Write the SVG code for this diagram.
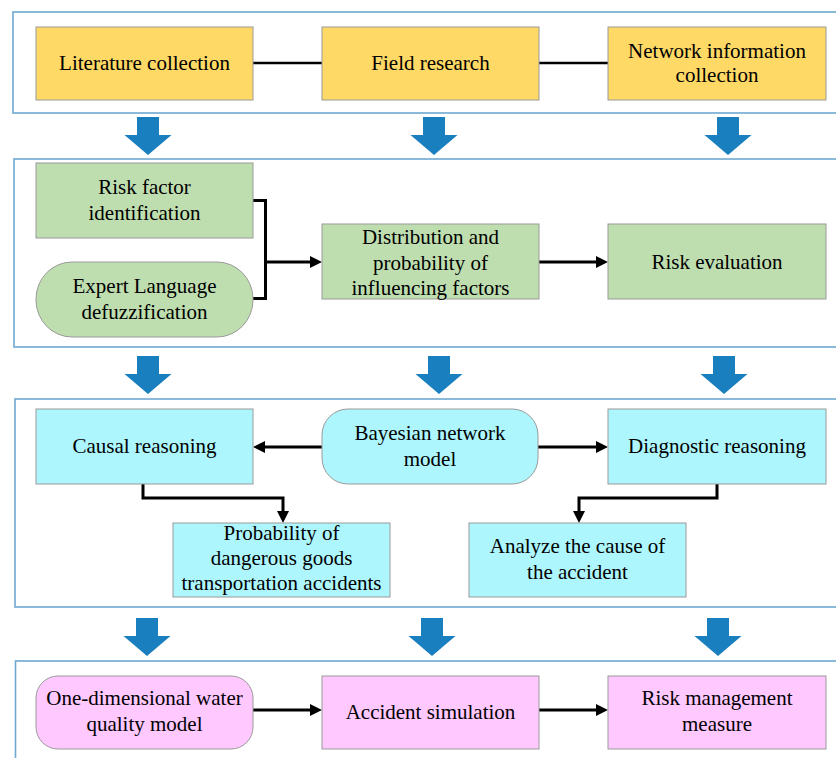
<svg xmlns="http://www.w3.org/2000/svg" xmlns:xlink="http://www.w3.org/1999/xlink" width="836" height="758" viewBox="0 0 836 758">
<style>
.panel{fill:#ffffff;stroke:#6fa8d0;stroke-width:1.6}
.box{stroke:#9a9a9a;stroke-width:1}
.y{fill:#ffd966}
.g{fill:#bfdeb0}
.c{fill:#aef6fd}
.p{fill:#ffc8ff}
text{font-family:"Liberation Serif","Times New Roman",serif;font-size:21px;fill:#000;text-anchor:middle}
.ln{fill:none;stroke:#000;stroke-width:3}
.ln2{fill:none;stroke:#000;stroke-width:2.5}
.ar{marker-end:url(#ah)}
</style>
<defs>
<marker id="ah" viewBox="0 0 12 12" refX="6" refY="6" markerWidth="12" markerHeight="12" markerUnits="userSpaceOnUse" orient="auto">
<path d="M0,0 L12,6 L0,12 z" fill="#000"/>
</marker>
<path id="big" d="M-11,0 H11 V18 H23.5 L0,38 L-23.5,18 H-11 Z" fill="#1a7fbe"/>
</defs>

<g id="panels">
<rect class="panel" x="13" y="12" width="840" height="101"/>
<rect class="panel" x="14" y="159" width="840" height="188"/>
<rect class="panel" x="15" y="399" width="840" height="208"/>
<rect class="panel" x="15.5" y="661" width="840" height="110"/>
</g>

<g id="big-arrows">
<use xlink:href="#big" x="148" y="117"/>
<use xlink:href="#big" x="434" y="117"/>
<use xlink:href="#big" x="728" y="117"/>
<use xlink:href="#big" x="148" y="356"/>
<use xlink:href="#big" x="439" y="356"/>
<use xlink:href="#big" x="724" y="356"/>
<use xlink:href="#big" x="147" y="618"/>
<use xlink:href="#big" x="432" y="618"/>
<use xlink:href="#big" x="718" y="618"/>
</g>

<g id="connectors">
<path class="ln2" d="M253,63 H322"/>
<path class="ln2" d="M539,63 H608"/>
<path class="ln" d="M253,200.5 H265.5 V298.5 H253"/>
<path class="ln ar" d="M265.5,262 H316"/>
<path class="ln ar" d="M539,262 H602"/>
<path class="ln ar" d="M322,447 H259"/>
<path class="ln ar" d="M538,447 H602"/>
<path class="ln ar" d="M143,484 V498 H283 V517"/>
<path class="ln ar" d="M717,484 V498 H579 V517"/>
<path class="ln ar" d="M253,710 H316"/>
<path class="ln ar" d="M539,710 H602"/>
</g>

<g id="n-literature">
<rect class="box y" x="36" y="27" width="217" height="73"/>
<text x="144.5" y="70">Literature collection</text>
</g>
<g id="n-field">
<rect class="box y" x="322" y="27" width="217" height="73"/>
<text x="430.5" y="70">Field research</text>
</g>
<g id="n-network">
<rect class="box y" x="608" y="27" width="218" height="73"/>
<text x="717" y="57.5">Network information</text>
<text x="717" y="82">collection</text>
</g>

<g id="n-riskfactor">
<rect class="box g" x="36" y="163" width="217" height="75"/>
<text x="144.5" y="194">Risk factor</text>
<text x="144.5" y="219.5">identification</text>
</g>
<g id="n-expert">
<rect class="box g" x="36" y="262" width="217" height="75" rx="36" ry="37"/>
<text x="144.5" y="293">Expert Language</text>
<text x="144.5" y="318.5">defuzzification</text>
</g>
<g id="n-distribution">
<rect class="box g" x="322" y="224" width="217" height="75"/>
<text x="430.5" y="244">Distribution and</text>
<text x="430.5" y="269.5">probability of</text>
<text x="430.5" y="295">influencing factors</text>
</g>
<g id="n-riskeval">
<rect class="box g" x="608" y="224" width="218" height="75"/>
<text x="717" y="269">Risk evaluation</text>
</g>

<g id="n-causal">
<rect class="box c" x="36" y="409" width="217" height="75"/>
<text x="144.5" y="453">Causal reasoning</text>
</g>
<g id="n-bayesian">
<rect class="box c" x="322" y="409" width="216" height="75" rx="26" ry="26"/>
<text x="430" y="440">Bayesian network</text>
<text x="430" y="465.5">model</text>
</g>
<g id="n-diagnostic">
<rect class="box c" x="608" y="409" width="218" height="75"/>
<text x="717" y="453">Diagnostic reasoning</text>
</g>
<g id="n-probability">
<rect class="box c" x="173" y="523" width="217" height="74"/>
<text x="281.5" y="540">Probability of</text>
<text x="281.5" y="565">dangerous goods</text>
<text x="281.5" y="590">transportation accidents</text>
</g>
<g id="n-analyze">
<rect class="box c" x="469" y="523" width="217" height="74"/>
<text x="577.5" y="553">Analyze the cause of</text>
<text x="577.5" y="578.5">the accident</text>
</g>

<g id="n-onedim">
<rect class="box p" x="36" y="676" width="217" height="73" rx="22" ry="22"/>
<text x="144.5" y="705">One-dimensional water</text>
<text x="144.5" y="730.5">quality model</text>
</g>
<g id="n-accident">
<rect class="box p" x="322" y="676" width="217" height="73"/>
<text x="430.5" y="719">Accident simulation</text>
</g>
<g id="n-riskmgmt">
<rect class="box p" x="608" y="676" width="218" height="73"/>
<text x="717" y="705">Risk management</text>
<text x="717" y="730.5">measure</text>
</g>
</svg>
